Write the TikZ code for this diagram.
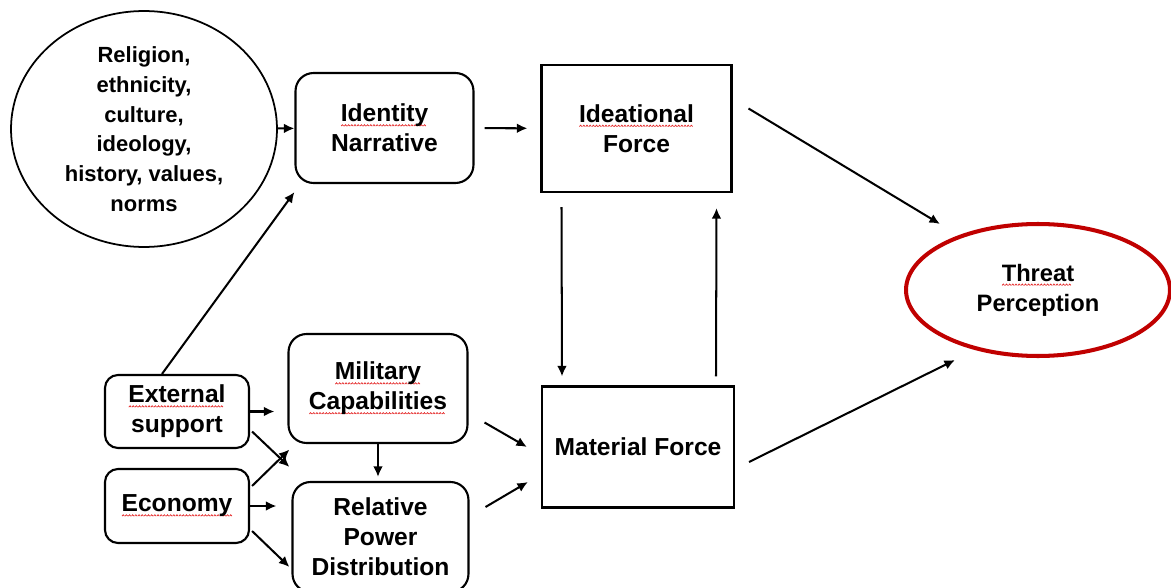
\documentclass[tikz,border=0pt]{standalone}
\usepackage{fontspec}
\setmainfont{Liberation Sans}
\usetikzlibrary{shapes.geometric,arrows.meta}
\definecolor{threatred}{RGB}{192,0,0}
\definecolor{sqred}{RGB}{228,40,40}
\newsavebox\sqbox
\newsavebox\sqword
\newcommand\sq[1]{\leavevmode\sbox\sqword{#1}\rlap{\lower2.6pt\hbox to\wd\sqword{\leaders\copy\sqbox\hfil}}\usebox\sqword}
\begin{document}
\sbox\sqbox{\pgfpicture\pgfsetlinewidth{0.4pt}\pgfsetstrokecolor{sqred}%
  \pgfpathmoveto{\pgfpoint{0pt}{0pt}}\pgfpathlineto{\pgfpoint{0.7pt}{0.8pt}}\pgfpathlineto{\pgfpoint{1.4pt}{0pt}}%
  \pgfusepath{stroke}\endpgfpicture}%
\begin{tikzpicture}[x=0.02cm,y=-0.02cm,
    every node/.style={draw,align=center,line width=1.2pt,font=\bfseries\fontsize{14}{17}\selectfont},
    rbox/.style={rounded corners=0.36cm},
    sbox/.style={rounded corners=0.26cm},
    arr/.style={-{Latex[length=6pt,width=5.5pt]},line width=1.15pt}]
        \useasboundingbox (0,0) rectangle (1171,588);
        \node[ellipse,minimum width=5.32cm,minimum height=4.72cm,line width=1pt,
          label={[draw=none,font=\bfseries\fontsize{12.5}{16.9}\selectfont]center:{Religion,\\ethnicity,\\culture,\\ideology,\\history, values,\\norms}}] (rel) at (144,129) {};
        \node[rbox,minimum width=3.56cm,minimum height=2.2cm] (idn) at (384.5,128) {\sq{Identity}\\Narrative};
        \node[minimum width=3.8cm,minimum height=2.54cm] (ide) at (636.5,128.5) {\sq{Ideational}\\Force};
        \node[minimum width=3.84cm,minimum height=2.42cm] (mat) at (638,447) {Material Force};
        \node[ellipse,draw=threatred,line width=2.3pt,minimum width=5.28cm,minimum height=2.64cm,
          font=\bfseries\fontsize{13.5}{17}\selectfont] (thr) at (1038,290) {\sq{Threat}\\Perception};
        \node[rbox,minimum width=3.58cm,minimum height=2.18cm] (mil) at (378,388.5) {\sq{Military}\\\sq{Capabilities}};
        \node[rbox,minimum width=3.52cm,minimum height=2.2cm] (rpd) at (380.5,537) {Relative\\Power\\Distribution};
        \node[sbox,minimum width=2.88cm,minimum height=1.46cm] (ext) at (177,411.5) {\sq{External}\\support};
        \node[sbox,minimum width=2.88cm,minimum height=1.48cm] (eco) at (177,506) {\sq{Economy}};
        \draw[arr] (rel) -- (idn);
        \draw[arr,shorten <=0.2cm,shorten >=0.26cm] (idn) -- (ide);
        \draw[arr] ([shift={(16,-20)}]ide.east) -- ([shift={(-98,-66)}]thr.center);
        \draw[arr] ([shift={(-75,14)}]ide.south) -- ([shift={(-76,-9)}]mat.north);
        \draw[arr] ([shift={(78,-9)}]mat.north) -- ([shift={(80,15)}]ide.south);
        \draw[arr] ([shift={(14,15)}]mat.east) -- ([shift={(-83,70)}]thr.center);
        \draw[arr] ([xshift=-0.3cm]ext.north) -- ([yshift=-0.16cm]idn.south west);
        \draw[arr,shorten >=0.26cm] (ext.east) -- (ext.east -| mil.west);
        \draw[arr] ([shift={(2,20)}]ext.east) -- ([shift={(-2,-70)}]rpd.west);
        \draw[arr] ([shift={(2,-20)}]eco.east) -- ([shift={(2,61)}]mil.west);
        \draw[arr,shorten >=0.3cm] (eco.east) -- (eco.east -| rpd.west);
        \draw[arr] ([shift={(2,25)}]eco.east) -- ([shift={(-2,30)}]rpd.west);
        \draw[arr,shorten >=0.08cm] (mil.south) -- (mil.south |- rpd.north);
        \draw[arr] ([shift={(16,34)}]mil.east) -- ([shift={(-14,0)}]mat.west);
        \draw[arr] ([shift={(16,-30)}]rpd.east) -- ([shift={(-13,35)}]mat.west);
      \end{tikzpicture}
\end{document}
